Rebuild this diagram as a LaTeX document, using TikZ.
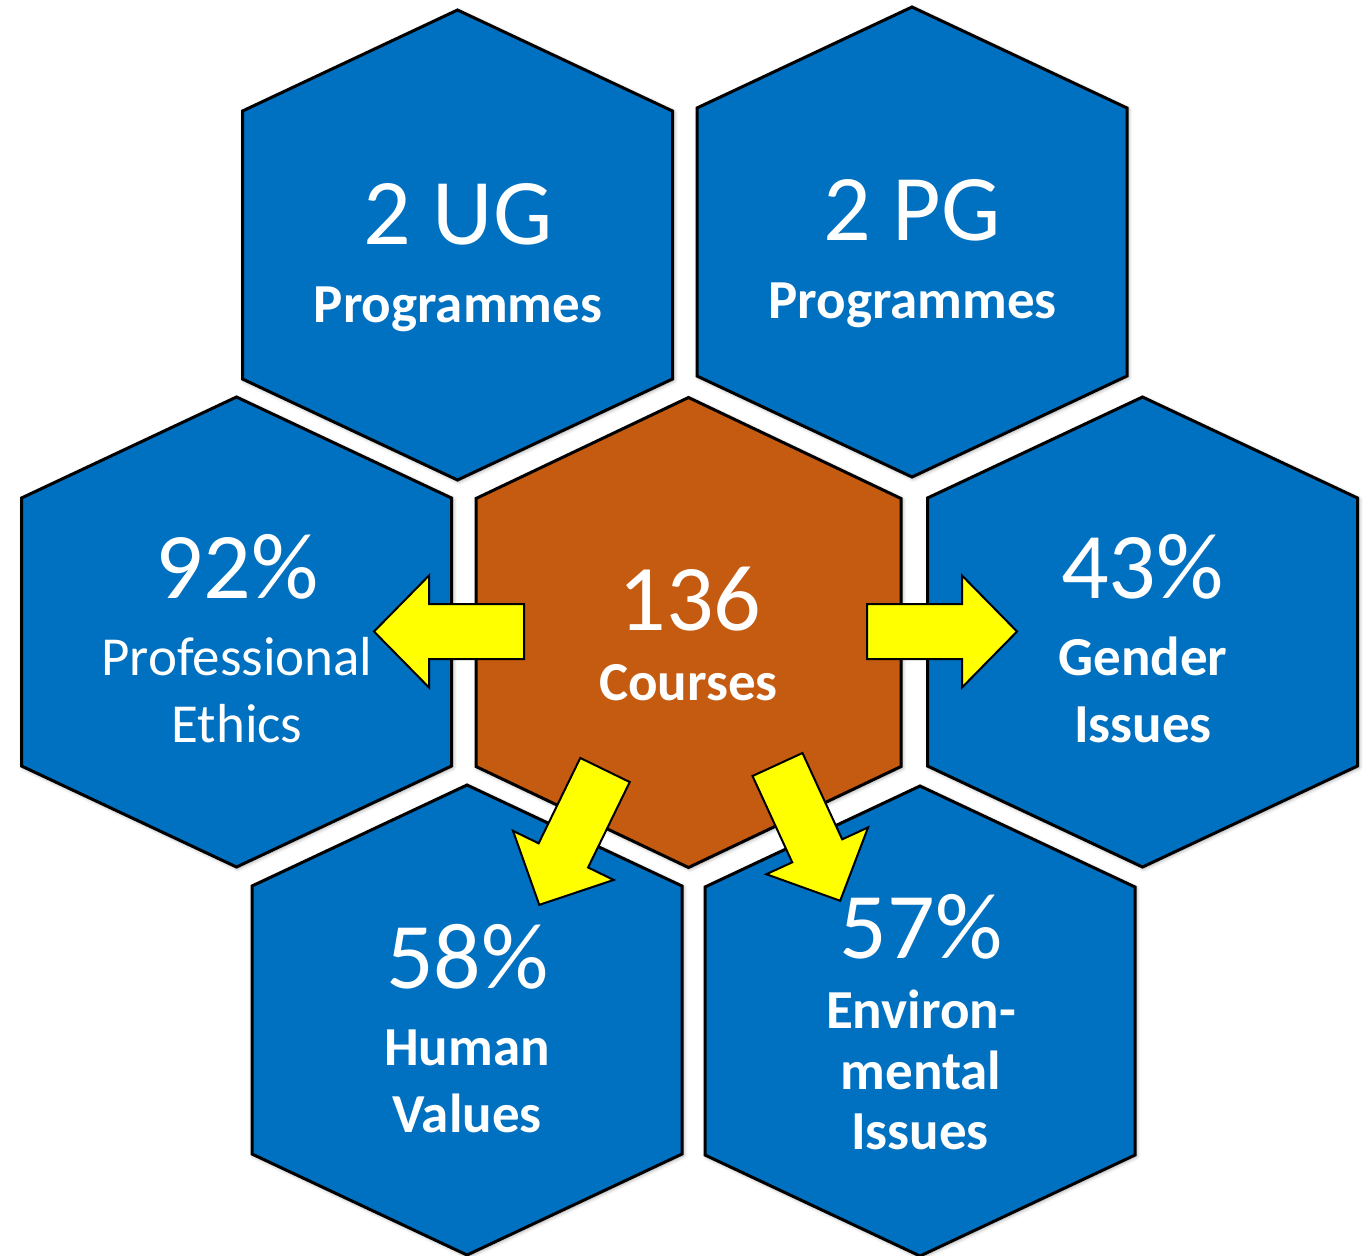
\documentclass[tikz,border=0pt]{standalone}
\usepackage{fontspec}
\setmainfont{Carlito}
\usetikzlibrary{shadows.blur}
\definecolor{hexblue}{RGB}{0,112,192}
\definecolor{hexorange}{RGB}{197,90,17}
\definecolor{arrowyellow}{RGB}{255,255,0}
\tikzset{
  hexa/.style={draw=black, line width=1.5pt, line join=miter,
    blur shadow={shadow xshift=0.7pt, shadow yshift=-0.7pt, shadow blur radius=2pt, shadow opacity=40}},
  blockarr/.style={draw=black, line width=1pt, fill=arrowyellow, line join=miter},
  numtext/.style={text=white, inner sep=0pt, anchor=base, font=\fontsize{47}{47}\selectfont},
  labbold/.style={text=white, inner sep=0pt, anchor=base, font=\fontsize{27.5}{30}\selectfont\bfseries},
  labreg/.style={text=white, inner sep=0pt, anchor=base, font=\fontsize{27.5}{30}\selectfont},
}
% #1 name, #2 centre, #3 fill colour, #4 half width
\newcommand\hexcell[4]{%
  \coordinate (#1) at (#2);
  \draw[hexa, fill=#3, shift={(#1)}] (0,-235) -- (#4,-134) -- (#4,134) -- (0,235)
    -- (-#4,134) -- (-#4,-134) -- cycle;}
% #1 name of tail point, #2 tail position, #3 direction angle
\newcommand\blockarrow[3]{%
  \coordinate (#1) at (#2);
  \draw[blockarr, shift={(#1)}, rotate=#3] (0,-27.5) -- (95,-27.5) -- (95,-56) -- (150,0)
    -- (95,56) -- (95,27.5) -- (0,27.5) -- cycle;}
\begin{document}
\begin{tikzpicture}[x=0.5pt, y=-0.5pt]
\useasboundingbox (0,0) rectangle (1370,1255);
% hexagons
\hexcell{ug}{457.5,245}{hexblue}{215}
\hexcell{pg}{912,242}{hexblue}{215}
\hexcell{pe}{236.5,632}{hexblue}{215}
\hexcell{cc}{688.5,632.5}{hexorange}{212.5}
\hexcell{gi}{1142.5,632}{hexblue}{215}
\hexcell{hv}{467,1020}{hexblue}{215}
\hexcell{ei}{920,1021}{hexblue}{215}
% texts
\node[numtext] (ugnum) at (458,244) {2 UG};
\node[labbold] (uglab) at (458,322) {Programmes};
\node[numtext] (pgnum) at (912,240) {2 PG};
\node[labbold] (pglab) at (912.5,318) {Programmes};
\node[numtext] (penum) at (237,598) {92\%};
\node[labreg] (pelab1) at (237,675) {Professional};
\node[labreg] (pelab2) at (237,742) {Ethics};
\node[numtext] (ccnum) at (690,630) {136};
\node[labbold] (cclab) at (688.5,700) {Courses};
\node[numtext] (ginum) at (1142.5,598) {43\%};
\node[labbold] (gilab1) at (1143,675) {Gender};
\node[labbold] (gilab2) at (1143,742) {Issues};
\node[numtext] (hvnum) at (467.5,988) {58\%};
\node[labbold] (hvlab1) at (467,1065) {Human};
\node[labbold] (hvlab2) at (467,1132) {Values};
\node[numtext] (einum) at (921,958) {57\%};
\node[labbold] (eilab1) at (921,1028) {Environ-};
\node[labbold] (eilab2) at (921,1089) {mental};
\node[labbold] (eilab3) at (920,1149) {Issues};
% arrows
\blockarrow{tw}{524,631.5}{180}
\blockarrow{te}{867,631.5}{0}
\blockarrow{tsw}{605,770}{-116}
\blockarrow{tse}{777.5,764.5}{-65.3}
\end{tikzpicture}
\end{document}
